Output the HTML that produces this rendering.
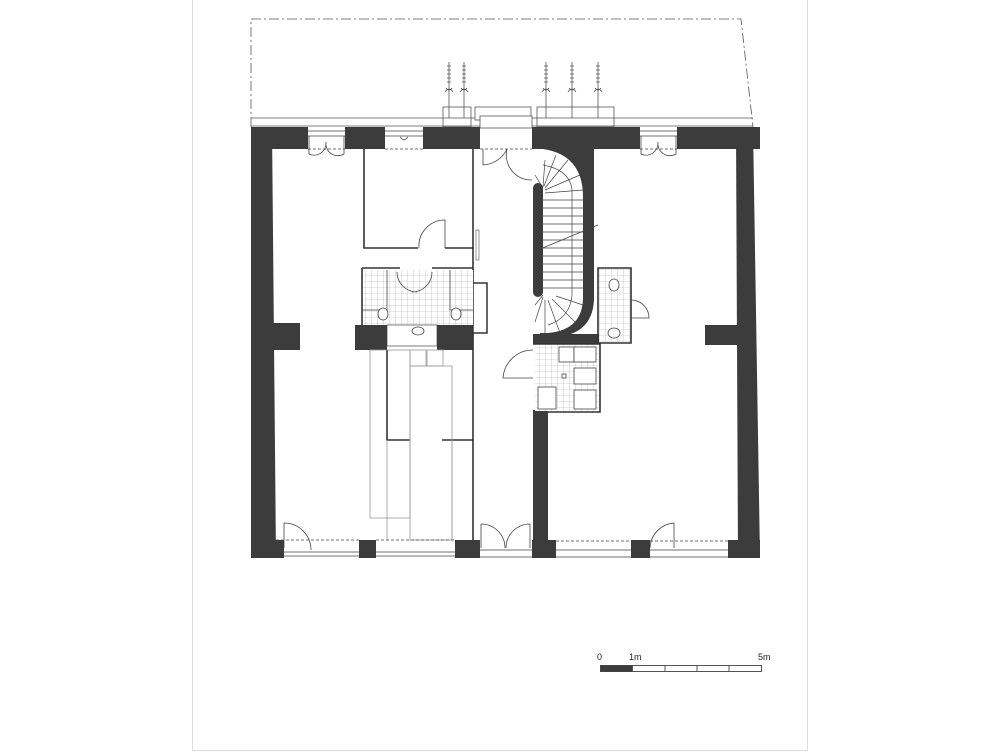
<!DOCTYPE html>
<html><head><meta charset="utf-8"><style>
html,body{margin:0;padding:0;background:#fff;}
svg{display:block;}
text{font-family:"Liberation Sans",sans-serif;}
</style></head><body>
<svg width="1000" height="755" viewBox="0 0 1000 755" xmlns="http://www.w3.org/2000/svg">
<defs>
<pattern id="tile" width="6" height="6" patternUnits="userSpaceOnUse">
<rect width="6" height="6" fill="#fff"/><path d="M6 0V6M0 6H6" stroke="#aaa" stroke-width="0.6"/>
</pattern>
<g id="tr" stroke="#555" stroke-width="0.8" fill="none"><line x1="0" y1="0" x2="0" y2="56"/><path d="M-2 4h4M-2 8h4M-2 12h4M-2 16h4M-2 20h4"/><path d="M-4 30 q4 -6 8 0 M-3 26 q3 4 6 0"/></g>
</defs>
<!-- page borders -->
<line x1="192.5" y1="0" x2="192.5" y2="750" stroke="#ddd"/>
<line x1="807.5" y1="0" x2="807.5" y2="750" stroke="#ddd"/>
<line x1="192" y1="750.5" x2="808" y2="750.5" stroke="#ddd"/>

<!-- property dash-dot line -->
<path d="M251 127 V19 H741 L753 127" fill="none" stroke="#555" stroke-width="0.8" stroke-dasharray="10,3,2,3"/>
<line x1="251" y1="118" x2="753" y2="118" stroke="#555" stroke-width="0.8"/>
<line x1="251" y1="126" x2="753" y2="126" stroke="#555" stroke-width="0.8"/>

<!-- trees -->
<use href="#tr" x="449" y="62"/><use href="#tr" x="464" y="62"/>
<use href="#tr" x="546" y="62"/><use href="#tr" x="572" y="62"/><use href="#tr" x="598" y="62"/>
<g stroke="#555" stroke-width="0.8" fill="none">
<rect x="443" y="107" width="28" height="20"/><rect x="537" y="107" width="77" height="20"/>
<rect x="475" y="107" width="56" height="13" fill="#fff"/>
<rect x="480" y="116" width="52" height="12" fill="#fff"/>
</g>

<!-- stair treads -->
<g stroke="#444" stroke-width="0.7" fill="none">
<path d="M543 200 H583 M543 208 H583 M543 216 H583 M543 224 H583 M543 232 H583 M543 240 H583 M543 248 H583 M543 256 H583 M543 264 H583 M543 272 H583 M543 280 H583 M543 288 H583"/>
<path d="M543 188 L535 175 M543 187 L545 160 M544 186 L556 155 M545 188 L568 160 M545 190 L580 175 M545 193 L583 190"/>
<path d="M543 295 L535 305 M543 297 L535 322 M545 300 L545 335 M548 300 L560 333 M552 299 L575 322 M556 296 L583 305"/>
<path d="M543 165 Q570 170 572 190 V295 Q570 318 548 325"/>
<line x1="533" y1="252" x2="598" y2="225"/>
</g>

<!-- walls -->
<g fill="#3c3c3c">
<rect x="251" y="127" width="57" height="22"/>
<rect x="345" y="127" width="40" height="22"/>
<rect x="423" y="127" width="57" height="22"/>
<rect x="532" y="127" width="108" height="22"/>
<rect x="677" y="127" width="83" height="22"/>
<polygon points="251,127 272,127 276,558 251,558"/>
<polygon points="736,127 753,127 760,558 738,558"/>
<rect x="272" y="323" width="28" height="27"/>
<rect x="705" y="325" width="32" height="20"/>
<rect x="355" y="325" width="32" height="25"/>
<rect x="437" y="325" width="36" height="25"/>
<!-- stair curved band -->
<path d="M543 148 H594 V300 Q592 337 550 337 H540 V333 H548 Q583 330 583 297 V197 Q583 155 543 149 Z"/>
<rect x="533" y="183" width="10" height="114" rx="5"/>
<rect x="533" y="334" width="66" height="10"/>
<rect x="533" y="410" width="15" height="148"/>
<rect x="251" y="540" width="33" height="18"/>
<rect x="359" y="540" width="17" height="18"/>
<rect x="455" y="540" width="25" height="18"/>
<rect x="532" y="540" width="24" height="18"/>
<rect x="631" y="540" width="19" height="18"/>
<rect x="728" y="540" width="32" height="18"/>
</g>

<!-- thin interior walls -->
<g stroke="#333" stroke-width="1.6" fill="none">
<path d="M364 149 V248 H418 M445 248 H474"/>
<path d="M473 149 V540"/>
<path d="M362 268 V325 M362 268 H400 M432 268 H473"/>
<path d="M387 350 V440 H410 M442 440 H473"/>
<path d="M598 268 H631 V343 H598 Z"/>
<path d="M533 344 H600 V412 H548"/>
</g>
<rect x="473" y="283" width="14" height="50" fill="#fff" stroke="#333" stroke-width="1.5"/>
<rect x="476" y="230" width="3" height="30" fill="#fff" stroke="#555" stroke-width="0.6"/>

<!-- tiled areas -->
<rect x="363" y="270" width="110" height="55" fill="url(#tile)"/>
<rect x="387" y="325" width="50" height="21" fill="#fff" stroke="#444" stroke-width="0.7"/>
<rect x="599" y="269" width="31" height="73" fill="url(#tile)"/>
<rect x="535" y="345" width="64" height="66" fill="url(#tile)"/>
<g stroke="#444" stroke-width="0.8" fill="#fff">
<rect x="559" y="347" width="15" height="15"/><rect x="574" y="347" width="22" height="15"/>
<rect x="574" y="368" width="22" height="16"/><rect x="574" y="390" width="22" height="19"/>
<rect x="538" y="387" width="18" height="22"/><rect x="562" y="374" width="4" height="4"/>
<path d="M387 270 V310 H363 M450 270 V310 H473" fill="none"/>
<ellipse cx="383" cy="314" rx="5" ry="6"/><ellipse cx="456" cy="314" rx="5" ry="6"/>
<ellipse cx="418" cy="331" rx="6" ry="4"/>
<ellipse cx="614" cy="285" rx="5" ry="6"/><ellipse cx="614" cy="333" rx="6" ry="5"/>
</g>

<!-- furniture grey -->
<g stroke="#999" stroke-width="0.8" fill="none">
<rect x="370" y="350" width="40" height="168"/>
<line x1="387" y1="440" x2="387" y2="540"/>
<rect x="410" y="366" width="42" height="174"/>
<rect x="410" y="350" width="16" height="16"/><rect x="427" y="350" width="16" height="16"/>
<line x1="452" y1="440" x2="452" y2="540"/>
</g>

<!-- windows & doors -->
<g stroke="#444" stroke-width="0.8" fill="none">
<path d="M308 131 H345 M308 136 H345 M385 131 H423 M385 136 H423 M640 131 H677 M640 136 H677"/>
<path d="M308 149 H345 M385 149 H423 M640 149 H677 M480 149 H532" stroke-dasharray="3,2"/>
<path d="M309 136 V154 A12 12 0 0 0 326 142 M344 136 V154 A12 12 0 0 1 326 142"/>
<path d="M641 136 V154 A12 12 0 0 0 658 142 M676 136 V154 A12 12 0 0 1 658 142"/>
<path d="M400 137 A10 10 0 0 0 404 140 A10 10 0 0 0 408 137"/>
<path d="M483 149 V165 A28 28 0 0 0 507 149"/>
<path d="M507 149 A25 25 0 0 0 532 180"/>
<path d="M445 248 V220 A26 26 0 0 0 419 248"/>
<path d="M397 272 A20 20 0 0 0 417 292 M432 272 A20 20 0 0 1 412 292"/>
<path d="M631 300 A18 18 0 0 1 649 318 H631"/>
<path d="M533 350 A30 30 0 0 0 503 378 H533"/>
<path d="M284 523 V548 M284 523 A27 27 0 0 1 311 550"/>
<path d="M481 524 V548 M481 524 A24 24 0 0 1 505 548 M530 524 V548 M530 524 A24 24 0 0 0 506 548"/>
<path d="M674 523 V548 M674 523 A26 26 0 0 0 650 548"/>
<path d="M276 540 H359 M376 540 H455 M556 541 H631 M650 541 H728" stroke-dasharray="3,2"/>
<path d="M284 552 H359 M376 552 H455 M480 550 H532 M556 550 H631 M650 550 H728"/>
<path d="M284 556 H359 M376 556 H455 M480 557 H532 M556 557 H631 M650 557 H728"/>
</g>

<!-- scale bar -->
<rect x="600.5" y="665.5" width="32" height="6" fill="#3c3c3c" stroke="#444"/>
<rect x="632.5" y="665.5" width="129" height="6" fill="#fff" stroke="#555"/>
<path d="M665 665V672M697 665V672M729 665V672" stroke="#555"/>
<text x="597" y="660" font-size="9" fill="#222">0</text>
<text x="629" y="660" font-size="9" fill="#222">1m</text>
<text x="758" y="660" font-size="9" fill="#222">5m</text>
</svg>
</body></html>
